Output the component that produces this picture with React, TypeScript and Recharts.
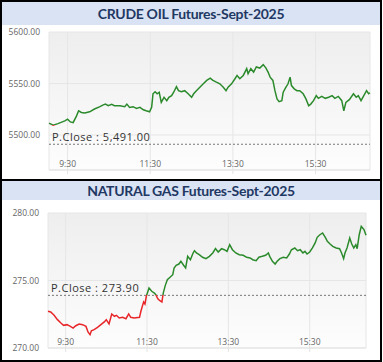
import { LineChart, Line, XAxis, YAxis, CartesianGrid, ReferenceLine } from 'recharts'

// time in minutes since midnight
const crudeTimes = [
  543, 549, 556, 566, 570, 574, 578, 583, 586, 590, 595, 602, 609, 617, 621, 625, 629, 634, 638, 646,
  653, 656, 660, 665, 670, 675, 680, 684, 689, 692, 694, 697, 700, 703, 706, 710, 714, 717, 721, 724,
  728, 731, 735, 740, 745, 750, 753, 757, 762, 767, 772, 777, 781, 786, 791, 796, 800, 803, 808, 813,
  816, 820, 825, 830, 832, 836, 840, 844, 849, 854, 858, 861, 864, 868, 871, 874, 877, 881, 883, 887,
  890, 893, 895, 899, 903, 907, 912, 916, 920, 923, 927, 931, 934, 939, 944, 949, 954, 958, 963, 968,
  971, 974, 979, 985, 989, 992, 996, 1000, 1004, 1007, 1009,
]
const crudePrices = [
  5511.5, 5509.5, 5511, 5513.7, 5515.4, 5512.7, 5512, 5518.6, 5523.5, 5521.9, 5521.3, 5522.5, 5525.2, 5527.5, 5529, 5530, 5528.4, 5529.7, 5528.4, 5528.4,
  5527.5, 5530, 5526.8, 5527.5, 5525.8, 5526.8, 5524.5, 5523.5, 5522.5, 5526.8, 5540, 5542, 5540, 5541.5, 5531.7, 5536.6, 5533.3, 5536.6, 5538.2, 5541.5,
  5547, 5543, 5542, 5543, 5540, 5536.6, 5540, 5543, 5546.4, 5549.7, 5553, 5555.2, 5553, 5551.3, 5549.7, 5546.4, 5543, 5546.4, 5549.7, 5554.6,
  5557.8, 5554.6, 5557.8, 5564.4, 5559.5, 5564.4, 5561.1, 5566, 5565, 5568.3, 5565, 5561.1, 5556.2, 5553, 5543, 5535, 5532.4, 5533.3, 5541.5, 5546.4,
  5549.7, 5556.2, 5548, 5544.8, 5543, 5543, 5540, 5535, 5528.4, 5530, 5533.3, 5538.2, 5535.6, 5537.5, 5535.6, 5536.6, 5538.2, 5535.6, 5537.5, 5533.3,
  5523.5, 5531.7, 5534.3, 5540, 5536.6, 5538.2, 5533.3, 5538.2, 5543, 5540, 5541,
]
const crudePrevClose = 5491
const crudeYTicks = [5500, 5550, 5600]

const gasTimes = [
  544, 548, 553, 558, 563, 567, 572, 577, 581, 585, 590, 595, 600, 603, 606, 608, 612, 617, 622, 627,
  630, 634, 638, 642, 645, 649, 654, 659, 663, 666, 671, 679, 681, 685, 687, 689, 693, 697, 701, 703,
  706, 709, 712, 714, 717, 720, 724, 728, 730, 733, 737, 740, 744, 747, 750, 754, 758, 760, 763, 767,
  772, 777, 782, 787, 791, 795, 800, 804, 808, 812, 816, 821, 826, 832, 837, 842, 846, 851, 855, 860,
  865, 869, 871, 875, 879, 882, 886, 891, 896, 900, 903, 908, 912, 916, 920, 923, 926, 930, 934, 938,
  941, 945, 949, 953, 956, 960, 964, 969, 974, 977, 980, 982, 985, 989, 992, 995, 998, 1000, 1003, 1006,
  1008, 1010, 1013,
]
const gasPrices = [
  272.72, 272.67, 272.42, 272.1, 271.85, 271.68, 271.73, 271.6, 271.48, 271.65, 271.78, 271.73, 271.6, 271.19, 270.99, 271.28, 271.36, 271.53, 271.73, 271.93,
  272.1, 271.78, 272.52, 272.35, 272.42, 272.22, 272.27, 272.17, 272.52, 272.27, 272.22, 272.27, 272.72, 273.41, 273.26, 273.83, 274.44, 274.2, 274.07, 273.95,
  273.65, 273.5, 273.41, 274.07, 274.64, 275.06, 275.24, 275.43, 275.93, 276.13, 276.22, 276.42, 276.13, 275.93, 276.79, 276.54, 277.04, 277.21, 277.04, 276.91,
  276.72, 276.62, 276.79, 277.04, 277.36, 277.11, 277.36, 277.28, 277.16, 277.65, 277.28, 277.04, 276.91, 276.87, 276.72, 276.67, 276.54, 276.47, 276.72, 276.79,
  276.87, 277.04, 276.79, 276.42, 276.22, 276.42, 276.62, 276.72, 276.67, 276.96, 277.28, 277.41, 277.21, 277.28, 277.04, 277.16, 276.96, 277.11, 277.41, 277.78,
  278.2, 278.39, 278.52, 278.2, 277.9, 277.7, 277.53, 277.41, 277.36, 277.04, 276.62, 277.04, 277.41, 278.15, 277.7, 277.41, 277.65, 277.36, 278.39, 279.01,
  278.89, 278.77, 278.35,
]
const gasPrevClose = 273.9
const gasYTicks = [270, 275, 280]

const xTicks = [570, 690, 810, 930]
const xTickLabels = ['9:30', '11:30', '13:30', '15:30']

const GREEN = '#2b8a2b'
const RED = '#e8262a'

const tickFont = { fontSize: 8.5, fill: '#666', fontFamily: '"Open Sans", sans-serif' }

function TimeTick({ x, y, payload }: any) {
  const i = xTicks.indexOf(payload.value)
  return (
    <text x={x} y={y - 7} textAnchor="middle" {...tickFont}>
      {xTickLabels[i]}
    </text>
  )
}

interface PanelProps {
  id: string
  title: string
  top: number
  height: number
  headerHeight: number
  times: number[]
  prices: number[]
  prevClose: number
  closeLabel: string
  yDomain: [number, number]
  yTicks: number[]
  margin: { top: number; right: number; left: number; bottom: number }
  yWidth: number
  xHeight: number
}

function Panel(p: PanelProps) {
  const data = p.times.map((t, i) => ({ t, v: p.prices[i] }))
  const max = Math.max(...p.prices)
  const min = Math.min(...p.prices)
  let off = (max - p.prevClose) / (max - min)
  off = Math.max(0, Math.min(1, off))
  return (
    <div style={{ position: 'absolute', left: 0, top: p.top, width: 383, height: p.height }}>
      <div
        style={{
          position: 'absolute', left: 0, top: 0, width: 378, height: p.height - 4,
          border: '2px solid #000', background: '#fff',
        }}
      />
      <div
        style={{
          position: 'absolute', left: 2, top: 2, width: 378, height: p.headerHeight,
          background: '#dae3f3', color: '#1f3864', fontFamily: 'Lato, sans-serif', fontWeight: 'bold',
          fontSize: 14, letterSpacing: -0.3, lineHeight: p.headerHeight + 'px', textAlign: 'center',
        }}
      >
        {p.title}
      </div>
      <div style={{ position: 'absolute', left: 0, top: 0 }}>
        <LineChart width={383} height={p.height} data={data} margin={p.margin}>
          <defs>
            <linearGradient id={p.id + 'bg'} x1="0" y1="0" x2="0" y2="1">
              <stop offset="0%" stopColor="#eeeeee" />
              <stop offset="100%" stopColor="#fdfdfd" />
            </linearGradient>
            <linearGradient id={p.id + 'stroke'} x1="0" y1="0" x2="0" y2="1">
              <stop offset={off} stopColor={GREEN} />
              <stop offset={off} stopColor={RED} />
            </linearGradient>
          </defs>
          <CartesianGrid stroke="#e6e6e6" fill={`url(#${p.id}bg)`} />
          <XAxis
            dataKey="t"
            type="number"
            domain={['dataMin', 'dataMax']}
            ticks={xTicks}
            height={p.xHeight}
            tickSize={4}
            tickMargin={0}
            stroke="#e3e3e3"
            tick={<TimeTick />}
          />
          <YAxis
            domain={p.yDomain}
            ticks={p.yTicks}
            width={p.yWidth}
            axisLine={false}
            tickLine={false}
            tickSize={0}
            tickMargin={9}
            tick={tickFont}
            tickFormatter={(v: number) => v.toFixed(2)}
            allowDataOverflow
          />
          <ReferenceLine
            y={p.prevClose}
            stroke="#777"
            strokeDasharray="2 2"
            label={{
              value: p.closeLabel,
              position: 'insideBottomLeft',
              offset: 3,
              fontSize: 11,
              letterSpacing: 0.5,
              fill: '#333',
              fontFamily: '"Open Sans", sans-serif',
            }}
          />
          <Line
            type="linear"
            dataKey="v"
            stroke={`url(#${p.id}stroke)`}
            strokeWidth={1.5}
            dot={false}
            isAnimationActive={false}
          />
        </LineChart>
      </div>
    </div>
  )
}

export default function App() {
  return (
    <div style={{ position: 'absolute', left: 0, top: 0, width: 383, height: 362, background: '#fff' }}>
      <Panel
        id="crude"
        title="CRUDE OIL Futures-Sept-2025"
        top={0}
        height={181}
        headerHeight={23}
        times={crudeTimes}
        prices={crudePrices}
        prevClose={crudePrevClose}
        closeLabel="P.Close : 5,491.00"
        yDomain={[5466, 5600]}
        yTicks={crudeYTicks}
        margin={{ top: 32, right: 13, left: 0, bottom: 0 }}
        yWidth={49}
        xHeight={11}
      />
      <Panel
        id="gas"
        title="NATURAL GAS Futures-Sept-2025"
        top={179}
        height={183}
        headerHeight={19}
        times={gasTimes}
        prices={gasPrices}
        prevClose={gasPrevClose}
        closeLabel="P.Close : 273.90"
        yDomain={[270, 280]}
        yTicks={gasYTicks}
        margin={{ top: 34, right: 17, left: 0, bottom: 0 }}
        yWidth={48}
        xHeight={14}
      />
    </div>
  )
}
